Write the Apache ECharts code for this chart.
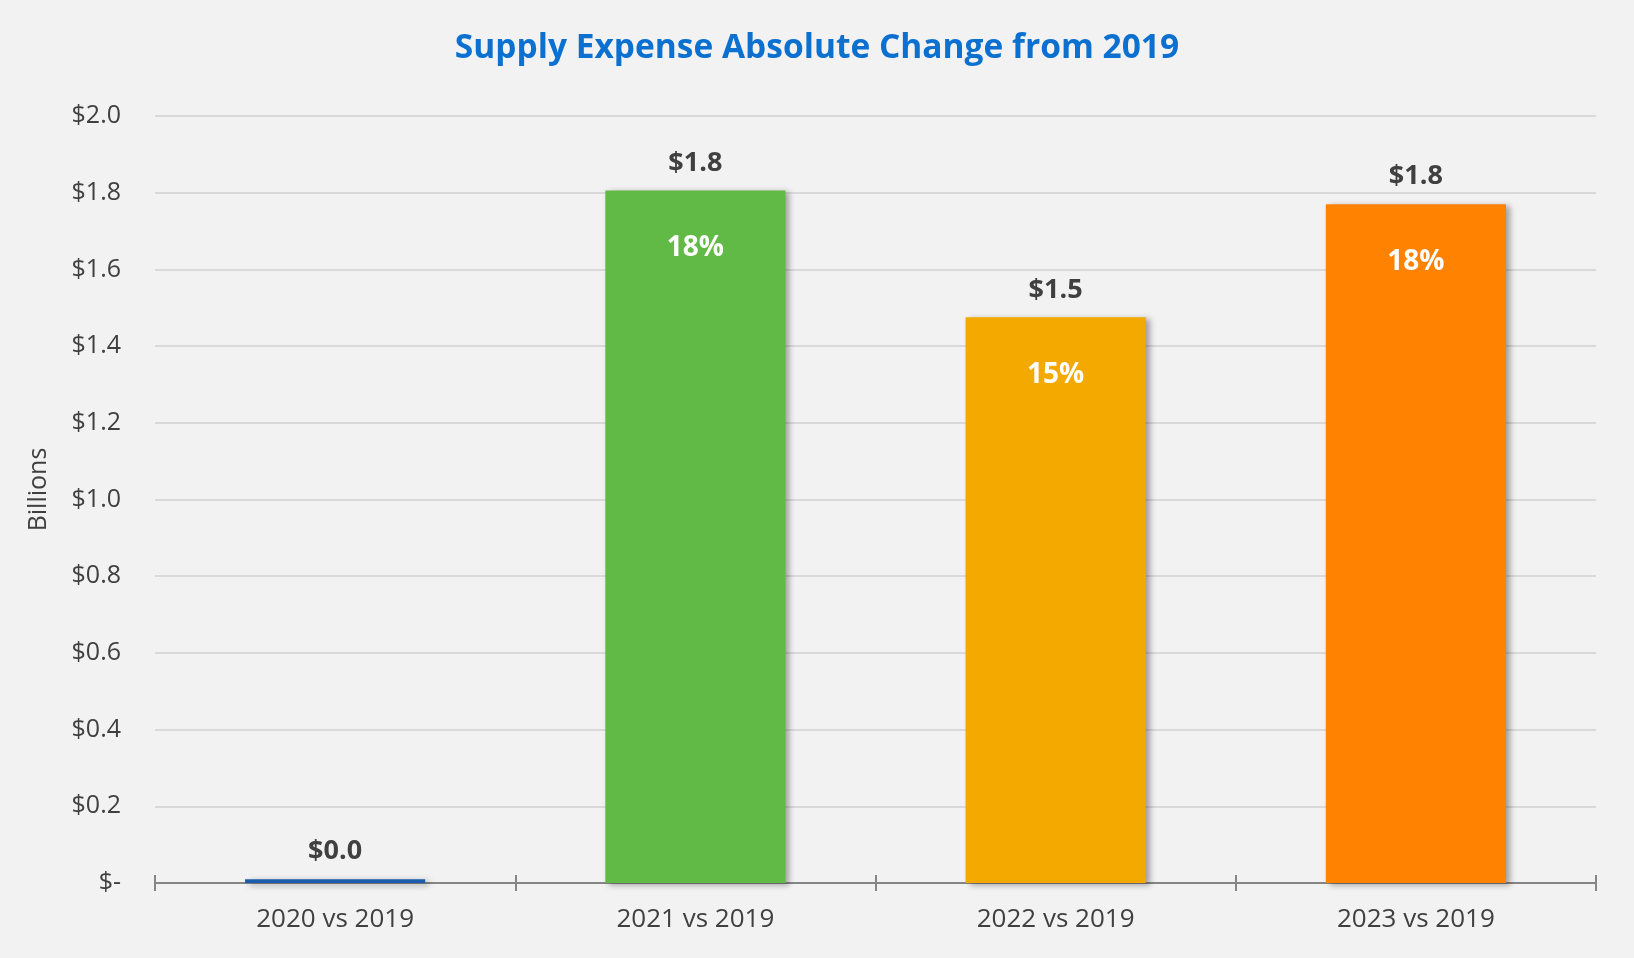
<!DOCTYPE html>
<html>
<head>
<meta charset="utf-8">
<script src="https://cdn.jsdelivr.net/npm/echarts@6/dist/echarts.min.js"></script>
<style>
  html, body { margin: 0; padding: 0; background: #f2f2f2; }
  #chart { width: 1634px; height: 958px; }
</style>
</head>
<body>
<div id="chart"></div>
<script>
// values (billions)
const categories = ['2020 vs 2019', '2021 vs 2019', '2022 vs 2019', '2023 vs 2019'];
const changeValues = [0.01, 1.806, 1.475, 1.77];
const valueLabels = ['$0.0', '$1.8', '$1.5', '$1.8'];
const pctLabels = ['', '18%', '15%', '18%'];
const barColors = ['#1a5dab', '#62ba46', '#f4a900', '#ff8200'];

const fontFamily = '"Open Sans", sans-serif';
const textGrey = '#404040';

const chart = echarts.init(document.getElementById('chart'));

const yLabel = v => v === 0 ? '$-' : '$' + v.toFixed(1);

const option = {
    backgroundColor: '#f2f2f2',
    animation: false,
    textStyle: { fontFamily },
    title: {
        text: 'Supply Expense Absolute Change from 2019',
        left: 'center',
        top: 26,
        textStyle: { color: '#0b70cf', fontSize: 33.5, fontWeight: 'bold', fontFamily }
    },
    grid: { left: 155, right: 38, top: 116, bottom: 75 },
    xAxis: [{
        type: 'category',
        data: categories,
        position: 'bottom',
        axisLine: { lineStyle: { color: '#868686', width: 2 } },
        axisTick: { show: true, length: 8, lineStyle: { color: '#868686', width: 2 } },
        axisLabel: { color: textGrey, fontSize: 26, margin: 24, fontFamily }
    }, {
        // second copy only to draw the tick marks above the line as well
        type: 'category',
        data: categories,
        position: 'bottom',
        axisLine: { show: false },
        axisTick: { show: true, inside: true, length: 8, lineStyle: { color: '#868686', width: 2 } },
        axisLabel: { show: false }
    }],
    yAxis: {
        type: 'value',
        min: 0,
        max: 2,
        interval: 0.2,
        name: 'Billions',
        nameLocation: 'middle',
        nameGap: 104,
        nameTextStyle: { color: textGrey, fontSize: 25, fontFamily, padding: [0, 0, 0, 20] },
        axisLine: { show: false },
        axisTick: { show: false },
        splitLine: { lineStyle: { color: '#d9d9d9', width: 2 } },
        axisLabel: { color: textGrey, fontSize: 25, margin: 34, fontFamily, formatter: yLabel }
    },
    series: [{
        type: 'bar',
        barWidth: '50%',
        data: changeValues.map((v, i) => ({
            value: v,
            itemStyle: { color: barColors[i] }
        })),
        itemStyle: {
            shadowColor: 'rgba(0,0,0,0.35)',
            shadowBlur: 6,
            shadowOffsetX: 4,
            shadowOffsetY: 2
        },
        label: {
            show: true,
            position: 'top',
            distance: 14,
            color: textGrey,
            fontSize: 27,
            fontWeight: 'bold',
            fontFamily,
            formatter: p => valueLabels[p.dataIndex]
        }
    }, {
        type: 'bar',
        barWidth: '50%',
        barGap: '-100%',
        silent: true,
        data: changeValues,
        itemStyle: { color: 'rgba(0,0,0,0)' },
        label: {
            show: true,
            position: 'insideTop',
            distance: 44,
            color: '#ffffff',
            fontSize: 28,
            fontWeight: 'bold',
            fontFamily,
            formatter: p => pctLabels[p.dataIndex]
        }
    }]
};

chart.setOption(option);
</script>
</body>
</html>
